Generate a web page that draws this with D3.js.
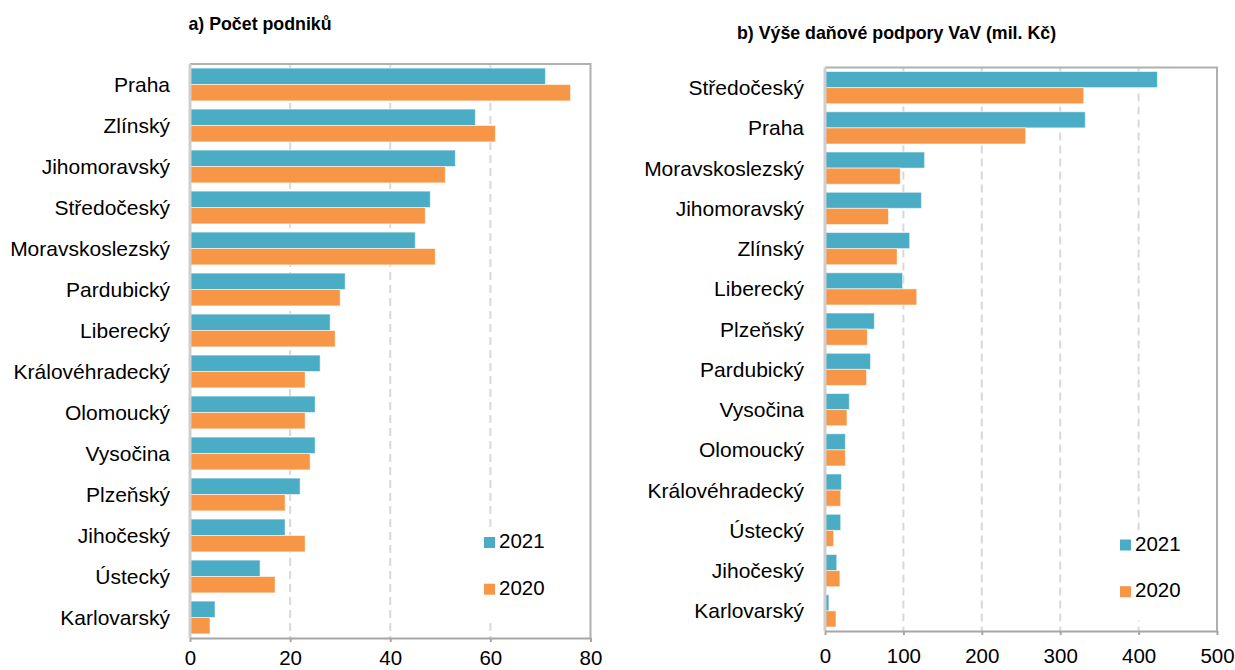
<!DOCTYPE html>
<html>
<head>
<meta charset="utf-8">
<script src="https://cdn.jsdelivr.net/npm/d3@7"></script>
<style>
  html, body { margin: 0; padding: 0; background: #fff; }
  svg { display: block; font-family: "Liberation Sans", Arial, sans-serif; }
</style>
</head>
<body>
<svg id="chart" width="1235" height="670"></svg>
<script>
// ---- data ----
const seriesNames = ["2021", "2020"];
const titleA = "a) Počet podniků";
const categoriesA = ["Praha","Zlínský","Jihomoravský","Středočeský","Moravskoslezský","Pardubický","Liberecký","Královéhradecký","Olomoucký","Vysočina","Plzeňský","Jihočeský","Ústecký","Karlovarský"];
const valuesA2021 = [71,57,53,48,45,31,28,26,25,25,22,19,14,5];
const valuesA2020 = [76,61,51,47,49,30,29,23,23,24,19,23,17,4];
const ticksA = [0,20,40,60,80];

const titleB = "b) Výše daňové podpory VaV (mil. Kč)";
const categoriesB = ["Středočeský","Praha","Moravskoslezský","Jihomoravský","Zlínský","Liberecký","Plzeňský","Pardubický","Vysočina","Olomoucký","Královéhradecký","Ústecký","Jihočeský","Karlovarský"];
const valuesB2021 = [424,332,127,123,108,99,63,58,31,26,21,20,15,5];
const valuesB2020 = [330,256,96,81,92,117,54,53,28,26,20,11,19,14];
const ticksB = [0,100,200,300,400,500];

const colors = {"2021": "#4bacc6", "2020": "#f79646"};

const svg = d3.select("#chart");

function panel(cfg) {
  const g = svg.append("g");
  const x = d3.scaleLinear().domain([cfg.ticks[0], cfg.ticks[cfg.ticks.length-1]]).range([cfg.x0, cfg.x1]);
  const y = d3.scaleBand().domain(cfg.categories).range([cfg.y0, cfg.y1]).paddingInner(0.2).paddingOuter(0.1);
  const ys = d3.scaleBand().domain(seriesNames).range([0, y.bandwidth()]);
  const rows = cfg.categories.map((c, i) => ({cat: c, "2021": cfg.v2021[i], "2020": cfg.v2020[i]}));

  // gridlines
  g.append("g").selectAll("line").data(cfg.ticks.slice(1, -1)).join("line")
    .attr("x1", d => x(d)).attr("x2", d => x(d))
    .attr("y1", cfg.y0).attr("y2", cfg.y1)
    .attr("stroke", "#d9d9d9").attr("stroke-width", 2).attr("stroke-dasharray", "8,5");

  // legend background (hides grid behind legend)
  g.append("rect").attr("x", cfg.legX - 6).attr("y", cfg.legY - 20).attr("width", 80).attr("height", 90).attr("fill", "#fff");

  // bars
  const grp = g.append("g").selectAll("g").data(rows).join("g")
    .attr("transform", d => `translate(0,${y(d.cat)})`);
  grp.selectAll("rect").data(d => seriesNames.map(s => ({s, v: d[s]}))).join("rect")
    .attr("x", x(0)).attr("y", d => ys(d.s))
    .attr("width", d => x(d.v) - x(0)).attr("height", ys.bandwidth())
    .attr("fill", d => colors[d.s])
    .attr("stroke", "rgba(255,255,255,0.55)").attr("stroke-width", 1);

  // border top/right
  g.append("path")
    .attr("d", `M${cfg.x0},${cfg.y0}H${cfg.x1}V${cfg.y1}`)
    .attr("fill", "none").attr("stroke", "#b0b0b0").attr("stroke-width", 2);
  // left axis line
  g.append("line").attr("x1", cfg.x0).attr("x2", cfg.x0).attr("y1", cfg.y0).attr("y2", cfg.y1)
    .attr("stroke", "#cfcfcf").attr("stroke-width", 3);

  // bottom axis
  const ax = g.append("g").attr("transform", `translate(0,${cfg.y1})`)
    .call(d3.axisBottom(x).tickValues(cfg.ticks).tickSize(4).tickSizeOuter(0).tickPadding(cfg.tickPad));
  ax.select(".domain").attr("stroke", "#a6a6a6").attr("stroke-width", 2);
  ax.selectAll(".tick line").attr("stroke", "#a6a6a6").attr("stroke-width", 2);
  ax.selectAll(".tick text").attr("font-size", "20.5px").attr("fill", "#000")
    .attr("font-family", "Liberation Sans, Arial, sans-serif");

  // category labels
  g.append("g").selectAll("text").data(cfg.categories).join("text")
    .attr("x", cfg.labelX).attr("y", d => y(d) + y.bandwidth()/2 + 7.5)
    .attr("text-anchor", "end").attr("font-size", "21px").attr("fill", "#000")
    .text(d => d);

  // title
  g.append("text").attr("x", cfg.titleX).attr("y", cfg.titleY)
    .attr("text-anchor", "middle").attr("font-size", "17.8px").attr("font-weight", "bold")
    .text(cfg.title);

  // legend
  const leg = g.append("g").selectAll("g").data(seriesNames).join("g")
    .attr("transform", (d, i) => `translate(${cfg.legX},${cfg.legY + i*46.7})`);
  leg.append("rect").attr("x", 0).attr("y", -11).attr("width", 11).attr("height", 11)
    .attr("fill", d => colors[d]);
  leg.append("text").attr("x", 15).attr("y", 0).attr("font-size", "20.5px").attr("fill", "#000")
    .text(d => d);
}

panel({
  title: titleA, categories: categoriesA, v2021: valuesA2021, v2020: valuesA2020, ticks: ticksA,
  x0: 190, x1: 590.5, y0: 64, y1: 638, labelX: 170, titleX: 260, titleY: 29.5,
  legX: 484, legY: 548, tickPad: 8.5
});
panel({
  title: titleB, categories: categoriesB, v2021: valuesB2021, v2020: valuesB2020, ticks: ticksB,
  x0: 825, x1: 1217, y0: 67.5, y1: 631, labelX: 804, titleX: 896.5, titleY: 39,
  legX: 1120, legY: 550.5, tickPad: 13
});
</script>
</body>
</html>
